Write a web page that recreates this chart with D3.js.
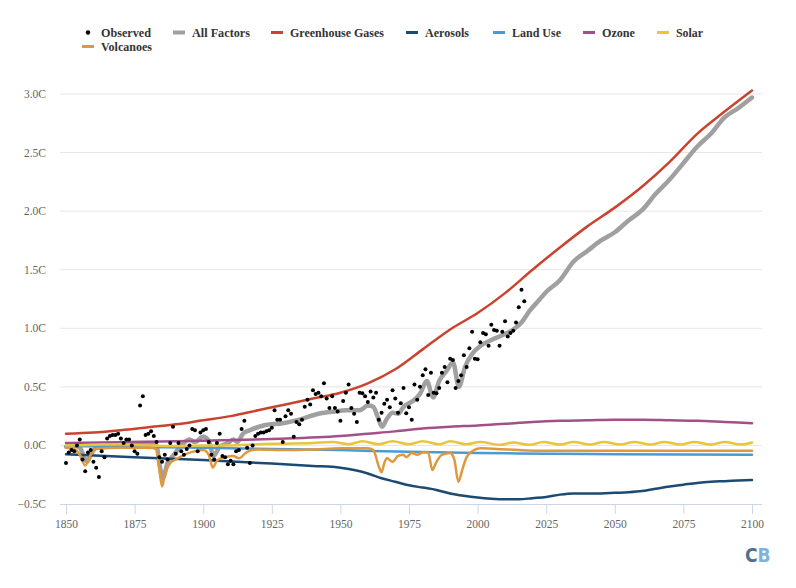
<!DOCTYPE html>
<html><head><meta charset="utf-8">
<script src="https://cdn.jsdelivr.net/npm/d3@7"></script>
<style>
body{margin:0;background:#fff;}
svg{display:block;}
svg text{font-family:"Liberation Serif","Tinos","DejaVu Serif","Liberation Sans",Arial,sans-serif;}
svg text.logo{font-family:"DejaVu Sans Condensed","Liberation Sans Narrow","Roboto",sans-serif;}
</style></head>
<body>
<svg id="chart" width="796" height="588"></svg>
<script>
// ---- DATA ----
const yTicks = [-0.5, 0, 0.5, 1.0, 1.5, 2.0, 2.5, 3.0];
const xTicks = [1850, 1875, 1900, 1925, 1950, 1975, 2000, 2025, 2050, 2075, 2100];

const observedStart = 1850;
const observed = [
 -0.15,-0.06,-0.04,-0.05,0.0,0.05,-0.12,-0.22,-0.06,-0.04,
 -0.14,-0.19,-0.27,-0.05,-0.10,0.06,0.08,0.09,0.09,0.10,
 0.06,0.02,0.05,0.05,0.0,-0.05,-0.07,0.34,0.42,0.09,
 0.10,0.12,0.08,0.03,-0.10,-0.14,-0.08,-0.12,0.02,0.16,
 -0.07,0.02,-0.05,-0.08,-0.03,0.0,0.14,0.13,-0.05,0.11,
 0.13,0.14,0.03,-0.08,-0.12,0.02,0.10,-0.09,-0.10,-0.16,
 -0.13,-0.16,-0.05,-0.04,0.14,0.21,-0.02,-0.15,0.0,0.08,
 0.10,0.11,0.11,0.12,0.13,0.15,0.30,0.22,0.22,0.03,
 0.25,0.30,0.27,0.075,0.20,0.18,0.22,0.33,0.39,0.35,
 0.47,0.44,0.45,0.42,0.53,0.40,0.32,0.42,0.32,0.29,
 0.21,0.38,0.45,0.52,0.32,0.27,0.20,0.45,0.445,0.42,
 0.37,0.46,0.41,0.45,0.22,0.28,0.355,0.39,0.325,0.47,
 0.40,0.28,0.36,0.49,0.275,0.325,0.22,0.52,0.39,0.50,
 0.60,0.65,0.43,0.62,0.45,0.445,0.49,0.62,0.67,0.54,
 0.74,0.73,0.49,0.55,0.60,0.77,0.67,0.83,0.97,0.74,
 0.735,0.88,0.96,0.95,0.85,1.03,0.985,0.98,0.85,0.97,
 1.06,0.93,0.96,0.98,1.05,1.18,1.33,1.23
];

const allFactors = [
 [1850,-0.01],[1853,0.0],[1855,-0.02],[1857.7,-0.14],[1859,-0.08],[1861,-0.02],[1865,0.0],
 [1870,0.01],[1875,0.02],[1880,0.02],[1883,0.0],[1884,-0.15],[1885.3,-0.28],[1887,-0.15],
 [1889,-0.09],[1892,0.0],[1895,0.05],[1897,0.03],[1900,0.075],[1902,0.04],[1903.8,-0.09],
 [1906,-0.01],[1909,0.02],[1911,0.05],[1912.5,0.03],[1914.5,0.10],[1917,0.13],[1922,0.17],
 [1929,0.19],[1935,0.22],[1942,0.27],[1948,0.29],[1952,0.30],[1957,0.30],[1960,0.34],
 [1962,0.33],[1963.5,0.25],[1965.2,0.16],[1967,0.23],[1969,0.28],[1971,0.27],[1973,0.33],
 [1975,0.36],[1977,0.39],[1979,0.44],[1981.5,0.55],[1983.8,0.41],[1986,0.55],[1988.8,0.64],
 [1991,0.71],[1993.2,0.50],[1995.4,0.67],[1998,0.78],[2001,0.85],[2005,0.90],[2009,0.94],
 [2013,0.99],[2016,1.05],[2019,1.15],[2022,1.23],[2025,1.31],[2030,1.41],[2035,1.57],
 [2040,1.66],[2045,1.75],[2050,1.82],[2055,1.92],[2060,2.01],[2065,2.15],[2070,2.27],
 [2075,2.41],[2080,2.55],[2085,2.66],[2090,2.80],[2095,2.88],[2100,2.97]
];

const greenhouse = [
 [1850,0.10],[1860,0.11],[1870,0.13],[1880,0.155],[1890,0.18],[1900,0.215],[1910,0.25],
 [1920,0.30],[1930,0.35],[1940,0.40],[1950,0.45],[1960,0.53],[1970,0.65],[1980,0.82],
 [1990,0.99],[2000,1.13],[2010,1.30],[2020,1.50],[2030,1.69],[2040,1.87],[2050,2.03],
 [2060,2.21],[2070,2.42],[2080,2.66],[2090,2.85],[2100,3.03]
];

const aerosols = [
 [1850,-0.075],[1875,-0.10],[1900,-0.125],[1925,-0.155],[1940,-0.175],[1950,-0.19],
 [1955,-0.21],[1960,-0.24],[1965,-0.28],[1970,-0.31],[1975,-0.34],[1980,-0.36],[1985,-0.38],
 [1990,-0.41],[1995,-0.43],[2000,-0.445],[2005,-0.455],[2010,-0.46],[2015,-0.46],[2020,-0.45],
 [2025,-0.44],[2030,-0.42],[2035,-0.41],[2040,-0.41],[2045,-0.41],[2050,-0.405],[2055,-0.40],
 [2060,-0.39],[2065,-0.37],[2070,-0.35],[2075,-0.335],[2080,-0.32],[2085,-0.31],[2090,-0.305],
 [2095,-0.30],[2100,-0.295]
];

const landUse = [
 [1850,-0.005],[1900,-0.02],[1950,-0.04],[1975,-0.055],[2000,-0.065],[2025,-0.07],
 [2050,-0.075],[2100,-0.08]
];

const ozone = [
 [1850,0.02],[1875,0.03],[1900,0.04],[1925,0.055],[1950,0.08],[1960,0.10],[1970,0.12],
 [1980,0.145],[1990,0.16],[2000,0.17],[2010,0.185],[2020,0.20],[2030,0.21],[2040,0.215],
 [2050,0.22],[2060,0.22],[2070,0.215],[2080,0.21],[2090,0.20],[2100,0.19]
];

const solar = [
 [1850,0.0],[1860,0.005],[1870,0.01],[1880,0.0],[1890,-0.005],[1900,0.0],[1910,0.0],
 [1920,0.01],[1930,0.015],[1940,0.02],[1947,0.03],[1953,0.01],[1958,0.035],[1964,0.01],
 [1969,0.035],[1975,0.01],[1980,0.035],[1986,0.01],[1990,0.035],[1996,0.01],[2001,0.03],
 [2008,0.005],[2013,0.025],[2019,0.005],[2024,0.03],[2030,0.008],[2035,0.03],[2041,0.008],
 [2046,0.03],[2052,0.008],[2057,0.03],[2063,0.008],[2068,0.03],[2074,0.008],[2079,0.03],
 [2085,0.008],[2090,0.03],[2096,0.008],[2100,0.025]
];

const volcanoes = [
 [1850,-0.02],[1853,-0.03],[1855,-0.08],[1857,-0.17],[1859,-0.08],[1861,-0.03],[1870,-0.02],
 [1880,-0.02],[1883,-0.03],[1884,-0.2],[1885,-0.35],[1886,-0.25],[1888,-0.15],[1890,-0.12],
 [1893,-0.08],[1896,-0.055],[1900,-0.04],[1902,-0.08],[1903.5,-0.19],[1905,-0.13],[1908,-0.10],
 [1911,-0.09],[1913,-0.11],[1916,-0.055],[1920,-0.035],[1930,-0.04],[1940,-0.035],[1950,-0.025],
 [1960,-0.025],[1962,-0.04],[1964,-0.18],[1965,-0.23],[1966,-0.15],[1967,-0.11],[1969,-0.14],
 [1971,-0.09],[1973,-0.08],[1974,-0.10],[1976,-0.065],[1978,-0.08],[1980,-0.06],[1982,-0.06],
 [1983.5,-0.21],[1985,-0.14],[1987,-0.08],[1990,-0.065],[1991.5,-0.12],[1993,-0.31],[1994.5,-0.2],
 [1996,-0.1],[1998,-0.05],[2001,-0.025],[2007,-0.03],[2015,-0.04],[2022,-0.045],[2050,-0.045],
 [2100,-0.045]
];

const seriesNames = ["Observed","All Factors","Greenhouse Gases","Aerosols","Land Use","Ozone","Solar","Volcanoes"];
const seriesColors = ["#000000","#a0a0a0","#c9432f","#1b4a72","#4a9ad3","#a2508a","#e8c53a","#e0983f"];

// ---- CHART ----
const svg = d3.select("#chart");
const plotLeft = 60, plotRight = 762;
const x = d3.scaleLinear().domain([1850, 2100]).range([66, 752]);
const y = d3.scaleLinear().domain([-0.5, 3.0]).range([504, 94]);

// gridlines
svg.append("g").selectAll("line").data(yTicks.filter(d => d > -0.5)).join("line")
  .attr("x1", plotLeft).attr("x2", plotRight)
  .attr("y1", d => y(d)).attr("y2", d => y(d))
  .attr("stroke", "#e6e6e6").attr("stroke-width", 1);

// y labels
svg.append("g").selectAll("text").data(yTicks).join("text")
  .attr("x", 46).attr("y", d => y(d) + 4)
  .attr("text-anchor", "end")
  .attr("font-size", 11.5).attr("fill", "#666")
  .text(d => d3.format(".1f")(d) + "C");

// x axis
const xAxis = d3.axisBottom(x).tickValues(xTicks).tickFormat(d3.format("d")).tickSize(10).tickPadding(6);
const gx = svg.append("g").attr("transform", "translate(0,504)").call(xAxis);
gx.attr("font-family", null);
gx.select(".domain").remove();
gx.append("line").attr("x1", plotLeft).attr("x2", plotRight).attr("y1", 0.5).attr("y2", 0.5)
  .attr("stroke", "#ccd6eb");
gx.selectAll(".tick line").attr("stroke", "#ccd6eb");
gx.selectAll(".tick text").attr("font-size", 11.5).attr("fill", "#666");

const line = d3.line().x(d => x(d[0])).y(d => y(d[1])).curve(d3.curveMonotoneX);

const lineSeries = [
  {data: allFactors, color: seriesColors[1], w: 4.5},
  {data: greenhouse, color: seriesColors[2], w: 2.5},
  {data: aerosols, color: seriesColors[3], w: 2.5},
  {data: landUse, color: seriesColors[4], w: 2.5},
  {data: ozone, color: seriesColors[5], w: 2.5},
  {data: solar, color: seriesColors[6], w: 2.5},
  {data: volcanoes, color: seriesColors[7], w: 2.5}
];
svg.append("g").selectAll("path").data(lineSeries).join("path")
  .attr("d", d => line(d.data))
  .attr("fill", "none")
  .attr("stroke", d => d.color)
  .attr("stroke-width", d => d.w)
  .attr("stroke-linejoin", "round").attr("stroke-linecap", "round");

// observed dots
svg.append("g").selectAll("circle").data(observed).join("circle")
  .attr("cx", (d, i) => x(observedStart + i))
  .attr("cy", d => y(d))
  .attr("r", 2).attr("fill", "#000");

// legend: symbol box 16px, 5px padding, 20px between items
const legendLeft = [80, 171, 269, 404, 491, 581, 655, 80];
const legendRow = [37, 37, 37, 37, 37, 37, 37, 51];
const legendTextW = [50, 58, 94, 44, 49, 33, 27, 51];
const lg = svg.append("g").selectAll("g").data(seriesNames).join("g")
  .attr("transform", (d, i) => `translate(${legendLeft[i]},${legendRow[i]})`);
lg.each(function(d, i) {
  const g = d3.select(this);
  if (i === 0) {
    g.append("circle").attr("cx", 8).attr("cy", -4.5).attr("r", 2.2).attr("fill", "#000");
  } else {
    g.append("line").attr("x1", 2).attr("x2", 14).attr("y1", -4.5).attr("y2", -4.5)
      .attr("stroke", seriesColors[i]).attr("stroke-width", i === 1 ? 4 : 3);
  }
  g.append("text").attr("x", 21).attr("y", 0)
    .attr("font-size", 13).attr("font-weight", "bold")
    .attr("textLength", legendTextW[i]).attr("lengthAdjust", "spacingAndGlyphs")
    .attr("fill", "#333").text(d);
});

// CB logo
const logo = svg.append("text").attr("class", "logo").attr("x", 745).attr("y", 562)
  .attr("font-size", 19).attr("font-weight", "bold");
logo.append("tspan").attr("fill", "#4f6f8f").text("C");
logo.append("tspan").attr("fill", "#7fb2dd").text("B");
</script>
</body></html>
